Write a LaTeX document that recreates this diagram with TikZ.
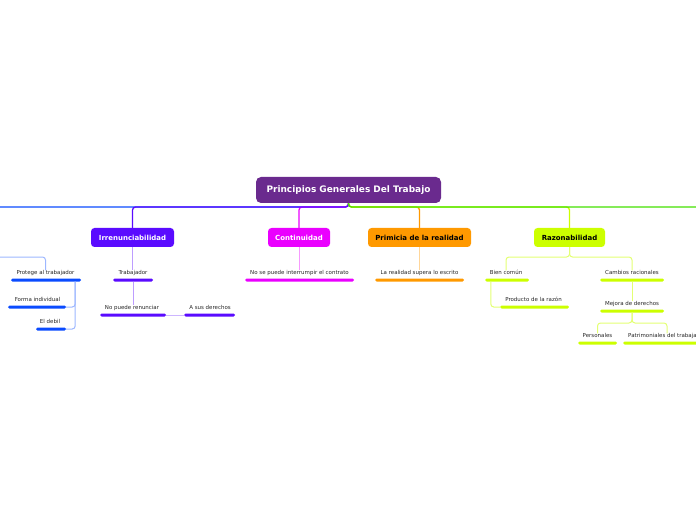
\documentclass[tikz,border=0pt]{standalone}
\usepackage{fontspec}
\setmainfont{DejaVu Sans}
\definecolor{cRoot}{HTML}{6A2A8E}
\definecolor{cIrr}{HTML}{5A0BFF}
\definecolor{cBlue}{HTML}{0A4BFF}
\definecolor{cMag}{HTML}{EA00FF}
\definecolor{cOra}{HTML}{FF9900}
\definecolor{cLime}{HTML}{CCFF00}
\definecolor{cGreen}{HTML}{44E000}
\begin{document}
\begin{tikzpicture}[x=1bp,y=-1bp,
  topic/.style={rounded corners=3.5bp, inner sep=0pt, minimum height=19bp, font=\fontsize{7}{8}\selectfont\bfseries},
  lbl/.style={inner sep=0pt, text height=4bp, text depth=1bp, font=\fontsize{5.5}{6}\selectfont, text=black!85},
  bar/.style={fill=#1, draw=none, rounded corners=1.5bp, minimum height=3bp, inner sep=0pt},
  conn/.style={draw=#1, line width=1bp, rounded corners=3bp},
  mainconn/.style={draw=#1, line width=1.3bp, rounded corners=3bp},
]
\useasboundingbox (0,0) rectangle (696,520);
\clip (0,0) rectangle (696,520);

% main topics
\node[topic, fill=cRoot, text=white, minimum width=185bp, minimum height=26bp, rounded corners=5bp,
      font=\fontsize{9}{10}\selectfont\bfseries] (root) at (348.5,190) {Principios Generales Del Trabajo};
\node[topic, fill=cIrr, text=white, minimum width=83bp] (irr) at (132.5,237.5) {Irrenunciabilidad};
\node[topic, fill=cMag, text=white, minimum width=62bp] (cont) at (299,237.5) {Continuidad};
\node[topic, fill=cOra, text=black, minimum width=103bp] (prim) at (419.5,237.5) {Primicia de la realidad};
\node[topic, fill=cLime, text=black, minimum width=71bp] (raz) at (569.5,237.5) {Razonabilidad};

\coordinate (hub) at (348.5,207);
\coordinate (offL) at (0,207);
\coordinate (offR) at (696,207);
\coordinate (offL2) at (0,257);

% subtopics: blue group
\node[lbl] (prot) at (45.5,273) {Protege al trabajador};
\node[bar=cBlue, minimum width=70bp] (protB) at (46,280) {};
\node[lbl] (form) at (37.5,300) {Forma individual};
\node[bar=cBlue, minimum width=58bp] (formB) at (37,307) {};
\node[lbl] (deb) at (50,322) {El debil};
\node[bar=cBlue, minimum width=30bp] (debB) at (51,329) {};

% Irrenunciabilidad
\node[lbl] (trab) at (133,273) {Trabajador};
\node[bar=cIrr, minimum width=40bp] (trabB) at (133,280) {};
\node[lbl] (npr) at (132,308) {No puede renunciar};
\node[bar=cIrr, minimum width=66bp] (nprB) at (133,315) {};
\node[lbl] (asd) at (210,308) {A sus derechos};
\node[bar=cIrr, minimum width=51bp] (asdB) at (209.5,315) {};

% Continuidad
\node[lbl] (nsp) at (299.5,273) {No se puede interrumpir el contrato};
\node[bar=cMag, minimum width=109bp] (nspB) at (299.5,280) {};

% Primicia
\node[lbl] (lrs) at (419.5,273) {La realidad supera lo escrito};
\node[bar=cOra, minimum width=89bp] (lrsB) at (419.5,280) {};

% Razonabilidad
\node[lbl] (bien) at (506,273) {Bien común};
\node[bar=cLime, minimum width=44bp] (bienB) at (507,280) {};
\node[lbl] (prod) at (533.5,300) {Producto de la razón};
\node[bar=cLime, minimum width=69bp] (prodB) at (534.5,307) {};
\node[lbl] (camb) at (632,273) {Cambios racionales};
\node[bar=cLime, minimum width=64bp] (cambB) at (632,280) {};
\node[lbl] (mej) at (632,304) {Mejora de derechos};
\node[bar=cLime, minimum width=64bp] (mejB) at (632,311) {};
\node[lbl] (pers) at (597.5,336) {Personales};
\node[bar=cLime, minimum width=39bp] (persB) at (597.5,343) {};
\node[lbl] (patr) at (667,336) {Patrimoniales del trabajador};
\node[bar=cLime, minimum width=88bp] (patrB) at (667,343) {};

% main connectors
\draw[mainconn=cBlue] (root.south) -- (hub) -- (offL);
\draw[mainconn=cMag] (root.south) -- (hub) -| (cont.north);
\draw[mainconn=cOra] (root.south) -- (hub) -| (prim.north);
\draw[mainconn=cLime] (root.south) -- (hub) -| (raz.north);
\draw[mainconn=cIrr] (root.south) -- (hub) -| (irr.north);
\draw[mainconn=cGreen] (root.south) -- (hub) -- (offR);

% blue group connectors
\draw[conn=cBlue!40] (offL2) -| (prot.north);
\draw[conn=cBlue!40] ([xshift=-6bp]protB.south east) |- (formB.east);
\draw[conn=cBlue!40] ([xshift=-6bp]protB.south east) |- (debB.east);

% Irrenunciabilidad connectors
\draw[conn=cIrr!40] (irr.south) -- (irr.south |- trab.north);
\draw[conn=cIrr!40] (trabB.south) -- (trabB.south |- npr.north);
\draw[conn=cIrr!30] (nprB.east) -- (asdB.west);

% Continuidad / Primicia
\draw[conn=cMag!40] (cont.south) -- (cont.south |- nsp.north);
\draw[conn=cOra!40] (prim.south) -- (prim.south |- lrs.north);

% Razonabilidad
\coordinate (rhub) at (569.5,257);
\draw[conn=cLime!55] (raz.south) -- (rhub) -| (bien.north);
\draw[conn=cLime!55] (raz.south) -- (rhub) -| (camb.north);
\draw[conn=cLime!55] ([xshift=6bp]bienB.south west) |- (prodB.west);
\draw[conn=cLime!55] (cambB.south) -- (cambB.south |- mej.north);
\coordinate (mhub) at (632,323);
\draw[conn=cLime!55] (mejB.south) -- (mhub) -| (pers.north);
\draw[conn=cLime!55] (mejB.south) -- (mhub) -| (patr.north);
\end{tikzpicture}
\end{document}
